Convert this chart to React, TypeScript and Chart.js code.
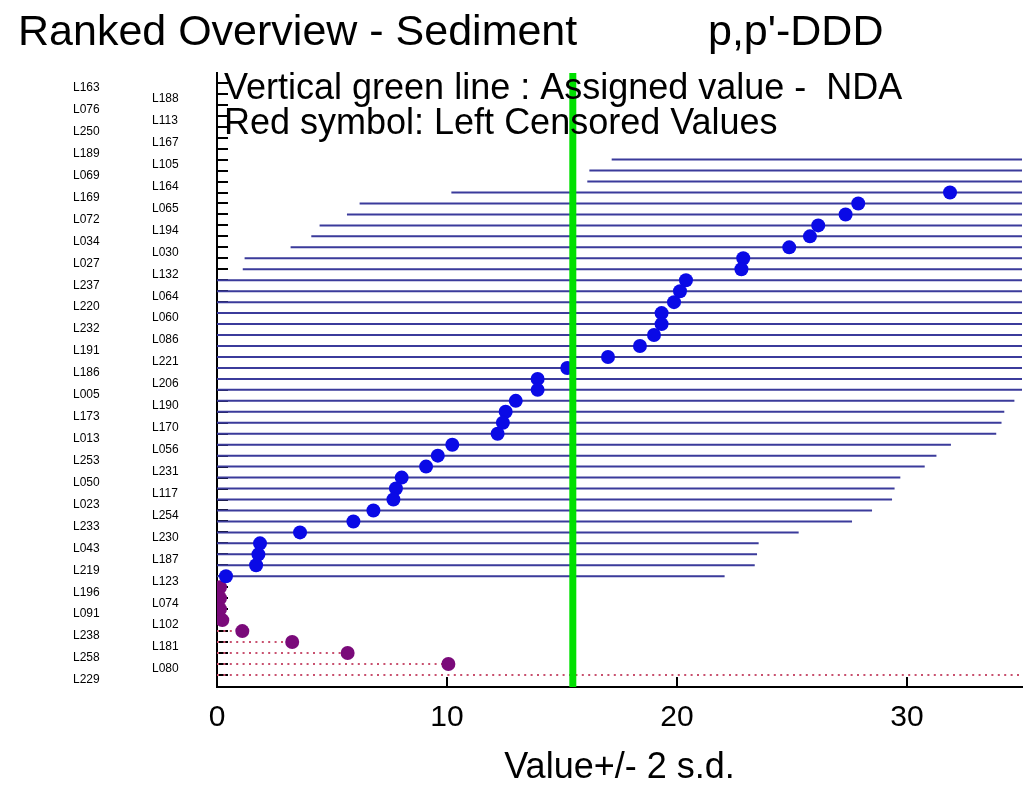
import React, { useEffect, useRef } from 'react';
import { Chart, registerables } from 'chart.js';

Chart.register(...registerables);

// ---- texts ----
const TITLE_LEFT = 'Ranked Overview - Sediment';
const TITLE_RIGHT = "p,p'-DDD";
const NOTE_LINES = ['Vertical green line : Assigned value -  NDA', 'Red symbol: Left Censored Values'];
const X_TITLE = 'Value+/- 2 s.d.';
const X_TICKS = [0, 10, 20, 30];

// ---- data (ranked from top to bottom) ----
const RANKED_LABS = [
  'L163', 'L188', 'L076', 'L113', 'L250', 'L167', 'L189', 'L105', 'L069', 'L164',
  'L169', 'L065', 'L072', 'L194', 'L034', 'L030', 'L027', 'L132', 'L237', 'L064',
  'L220', 'L060', 'L232', 'L086', 'L191', 'L221', 'L186', 'L206', 'L005', 'L190',
  'L173', 'L170', 'L013', 'L056', 'L253', 'L231', 'L050', 'L117', 'L023', 'L254',
  'L233', 'L230', 'L043', 'L187', 'L219', 'L123',
];
const RANKED_VALUES = [
  250, 180, 120, 95, 80, 70, 62, 38.84, 37.87, 37.78,
  31.87, 27.88, 27.33, 26.14, 25.78, 24.88, 22.88, 22.8, 20.39, 20.13,
  19.87, 19.33, 19.33, 19.0, 18.39, 17.0, 15.23, 13.94, 13.94, 12.99,
  12.55, 12.43, 12.2, 10.23, 9.6, 9.09, 8.03, 7.78, 7.67, 6.8,
  5.93, 3.61, 1.87, 1.8, 1.7, 0.39,
];
const CENSORED_LABS = ['L196', 'L074', 'L091', 'L102', 'L238', 'L181', 'L258', 'L080', 'L229'];
const CENSORED_VALUES = [0.13, 0.13, 0.13, 0.23, 1.1, 3.27, 5.68, 10.06, 40];
const TWO_SD = 21.68;
const ASSIGNED_VALUE = 15.47;

const X_MIN = 0;
const X_MAX = 35;
const Y_MIN = 0.1;
const Y_MAX = 56.1;

const ALL_LABS = [...RANKED_LABS, ...CENSORED_LABS];
const ROWS = ALL_LABS.map((_, i) => i + 1);
const CENSORED_ROW0 = RANKED_LABS.length + 1;

const FONT = 'Liberation Sans';

const decorPlugin = {
  id: 'decor',
  beforeDatasetsDraw(chart: any) {
    const { ctx, chartArea, scales } = chart;
    ctx.save();
    ctx.strokeStyle = '#000';
    ctx.lineWidth = 2;
    ctx.beginPath();
    scales.y.ticks.forEach((t: any) => {
      const py = Math.round(scales.y.getPixelForValue(t.value));
      ctx.moveTo(chartArea.left, py);
      ctx.lineTo(chartArea.left + 11, py);
    });
    scales.x.ticks.forEach((t: any) => {
      const px = Math.round(scales.x.getPixelForValue(t.value));
      ctx.moveTo(px, chartArea.bottom);
      ctx.lineTo(px, chartArea.bottom - 10);
    });
    ctx.stroke();
    ctx.restore();
  },
  afterDraw(chart: any) {
    const { ctx, chartArea } = chart;
    ctx.save();
    ctx.fillStyle = '#000';
    ctx.textBaseline = 'alphabetic';
    ctx.textAlign = 'left';
    ctx.font = `43px "${FONT}"`;
    ctx.fillText(TITLE_LEFT, 18, 45);
    ctx.fillText(TITLE_RIGHT, 708, 45);
    ctx.font = `36px "${FONT}"`;
    NOTE_LINES.forEach((line, i) => {
      ctx.fillText(line, chartArea.left + 7, chartArea.top + 26 + i * 35);
    });
    ctx.restore();
  },
};

export default function App() {
  const canvasRef = useRef<HTMLCanvasElement | null>(null);

  useEffect(() => {
    const canvas = canvasRef.current;
    if (!canvas) return;

    const intervals: any[] = [];
    RANKED_VALUES.forEach((v, i) => {
      intervals.push({ x: v - TWO_SD, y: i + 1 }, { x: v + TWO_SD, y: i + 1 }, { x: null, y: null });
    });
    const censoredLines: any[] = [];
    CENSORED_VALUES.forEach((v, i) => {
      censoredLines.push({ x: 0, y: CENSORED_ROW0 + i }, { x: v, y: CENSORED_ROW0 + i }, { x: null, y: null });
    });
    const rankedPoints = RANKED_VALUES.map((v, i) => ({ x: v, y: i + 1 }));
    const censoredPoints = CENSORED_VALUES.map((v, i) => ({ x: v, y: CENSORED_ROW0 + i }));

    const yCommon = (inner: boolean) => ({
      type: 'linear' as const,
      position: 'left' as const,
      weight: inner ? 0 : 1,
      min: Y_MIN,
      max: Y_MAX,
      reverse: true,
      grid: { display: false, drawTicks: false, tickLength: 0 },
      border: inner ? { display: true, color: '#000', width: 2 } : { display: false },
      afterBuildTicks: (scale: any) => {
        scale.ticks = ROWS.map((r) => ({ value: r }));
      },
      afterFit: (scale: any) => {
        scale.width = inner ? 65 : 79;
      },
      ticks: {
        autoSkip: false,
        crossAlign: 'far' as const,
        padding: 0,
        labelOffset: 5,
        color: '#000',
        font: { family: FONT, size: 12 },
        callback: (value: any) => {
          const i = Math.round(Number(value)) - 1;
          if (i < 0 || i >= ALL_LABS.length) return '';
          return (i % 2 === 1) === inner ? ALL_LABS[i] : '';
        },
      },
    });

    const chart = new Chart(canvas, {
      type: 'scatter',
      data: {
        datasets: [
          {
            type: 'line',
            label: 'Assigned value',
            data: [
              { x: ASSIGNED_VALUE, y: Y_MIN },
              { x: ASSIGNED_VALUE, y: Y_MAX },
            ],
            borderColor: '#00e000',
            borderWidth: 7,
            pointRadius: 0,
            showLine: true,
            order: 0,
            xAxisID: 'x',
            yAxisID: 'y',
          },
          {
            type: 'scatter',
            label: 'Values',
            data: rankedPoints,
            backgroundColor: '#0a0ae6',
            borderWidth: 0,
            pointRadius: 7,
            pointHoverRadius: 7,
            order: 1,
            xAxisID: 'x',
            yAxisID: 'y',
          },
          {
            type: 'scatter',
            label: 'Left censored',
            data: censoredPoints,
            backgroundColor: '#7a0a7a',
            borderWidth: 0,
            pointRadius: 7,
            pointHoverRadius: 7,
            order: 1,
            xAxisID: 'x',
            yAxisID: 'y',
          },
          {
            type: 'line',
            label: '2 s.d.',
            data: intervals,
            borderColor: '#3b3b9b',
            borderWidth: 2,
            pointRadius: 0,
            showLine: true,
            spanGaps: false,
            order: 2,
            xAxisID: 'x',
            yAxisID: 'y',
          },
          {
            type: 'line',
            label: 'Censored range',
            data: censoredLines,
            borderColor: '#c8506e',
            borderWidth: 2,
            borderDash: [2, 4.4],
            pointRadius: 0,
            showLine: true,
            spanGaps: false,
            order: 2,
            xAxisID: 'x',
            yAxisID: 'y',
          },
        ] as any,
      },
      options: {
        responsive: false,
        animation: false,
        layout: { padding: { top: 73, left: 73, right: 11, bottom: 0 } },
        plugins: {
          legend: { display: false },
          title: { display: false },
          tooltip: { enabled: false },
        },
        scales: {
          x: {
            type: 'linear',
            position: 'bottom',
            min: X_MIN,
            max: X_MAX,
            grid: { display: false, drawTicks: false, tickLength: 0 },
            border: { display: true, color: '#000', width: 2 },
            afterBuildTicks: (scale: any) => {
              scale.ticks = X_TICKS.map((v) => ({ value: v }));
            },
            afterFit: (scale: any) => {
              scale.height = 107;
            },
            ticks: {
              color: '#000',
              padding: 13,
              font: { family: FONT, size: 30 },
              callback: (v: any) => String(v),
            },
            title: {
              display: true,
              text: X_TITLE,
              color: '#000',
              font: { family: FONT, size: 36 },
              padding: { top: 0, bottom: 4 },
            },
          },
          y: yCommon(true),
          yL: yCommon(false),
        } as any,
      },
      plugins: [decorPlugin],
    });

    return () => chart.destroy();
  }, []);

  return (
    <canvas
      ref={canvasRef}
      width={1033}
      height={794}
      style={{ position: 'absolute', left: 0, top: 0, display: 'block' }}
    />
  );
}
